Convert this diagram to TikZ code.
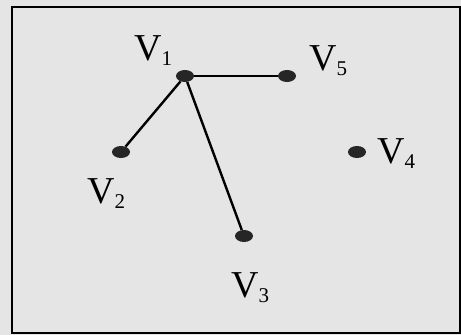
\documentclass[tikz,border=0pt]{standalone}
\usepackage{fontspec}
\setmainfont{Liberation Serif}
\usepackage{tikz}
\usetikzlibrary{shapes}

\newcommand{\vname}[1]{\fontsize{38}{40}\selectfont V\raisebox{-0.3ex}{\fontsize{21}{23}\selectfont #1}}

\begin{document}
\begin{tikzpicture}[x=1pt, y=-1pt]
  \useasboundingbox (0,0) rectangle (461,335);
  \fill[black!10] (0,0) rectangle (461,335);
  \draw[line width=2pt] (12,7) rectangle (460,333);

  \node (v1) [ellipse, fill=black!85, minimum width=18pt, minimum height=12pt, inner sep=0pt] at (185,76) {};
  \node (v2) [ellipse, fill=black!85, minimum width=18pt, minimum height=12pt, inner sep=0pt] at (121,152) {};
  \node (v3) [ellipse, fill=black!85, minimum width=18pt, minimum height=12pt, inner sep=0pt] at (244,236) {};
  \node (v4) [ellipse, fill=black!85, minimum width=18pt, minimum height=12pt, inner sep=0pt] at (357,152) {};
  \node (v5) [ellipse, fill=black!85, minimum width=18pt, minimum height=12pt, inner sep=0pt] at (287,76) {};

  \node (lab1) [anchor=base west, inner sep=0pt] at (134,60) {\vname{1}};
  \node (lab2) [anchor=base west, inner sep=0pt] at (87,203) {\vname{2}};
  \node (lab3) [anchor=base west, inner sep=0pt] at (231,297) {\vname{3}};
  \node (lab4) [anchor=base west, inner sep=0pt] at (377,163) {\vname{4}};
  \node (lab5) [anchor=base west, inner sep=0pt] at (309,70) {\vname{5}};

  \draw[line width=2.4pt] (v1) -- (v2);
  \draw[line width=2.4pt] (v1) -- (v3);
  \draw[line width=2.4pt] (v1) -- (v5);
\end{tikzpicture}
\end{document}
